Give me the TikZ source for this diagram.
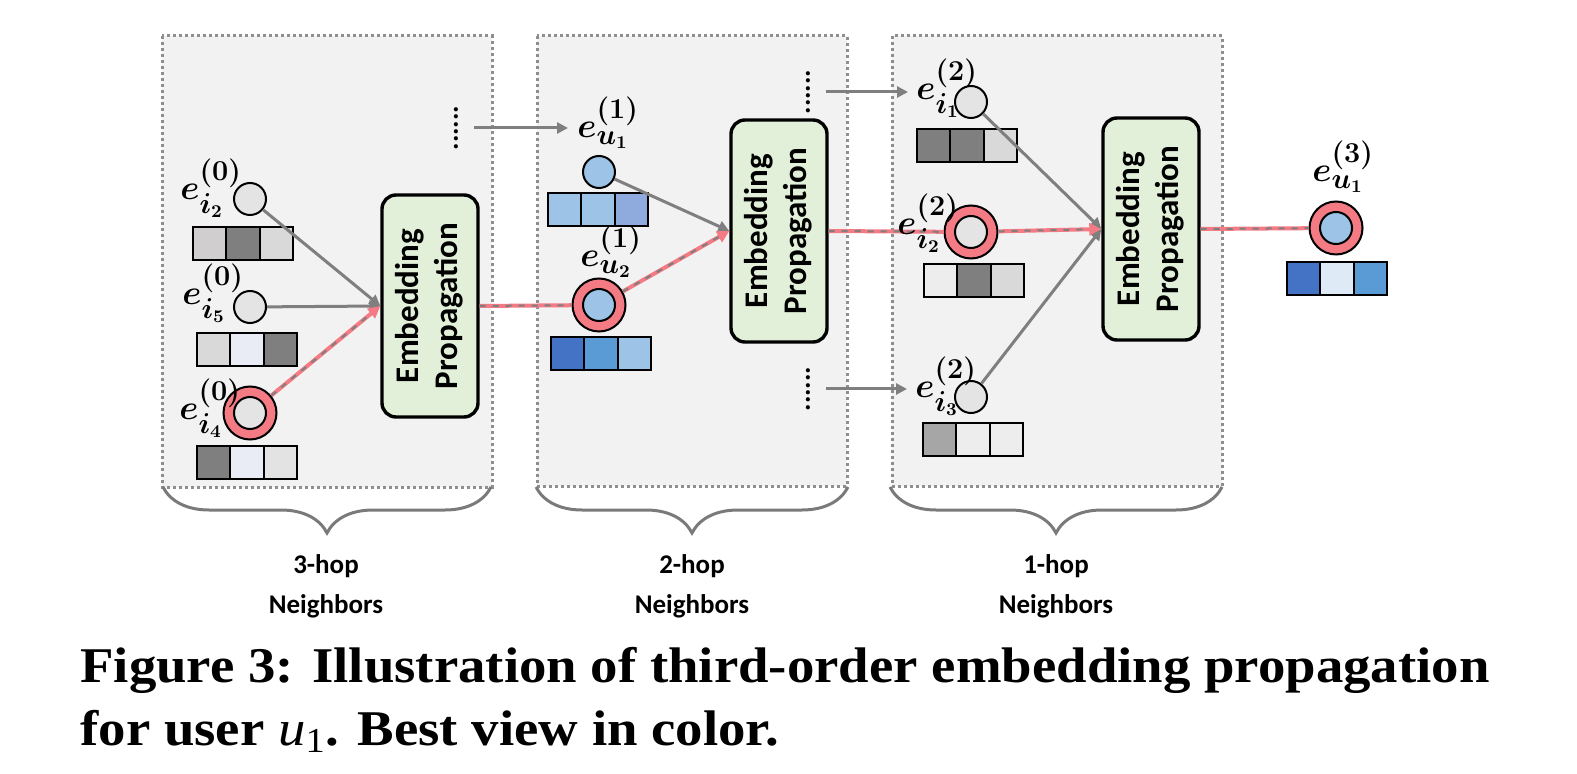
\documentclass[tikz,border=0pt]{standalone}
\usepackage{amsmath,bm}
\usepackage{fontspec}
\newfontfamily\calibri{Carlito}
\newfontfamily\capfont[FakeStretch=1.096]{Liberation Serif}
\usetikzlibrary{calc, arrows.meta, positioning, decorations.pathreplacing}

\definecolor{panelfill}{HTML}{F2F2F2}
\definecolor{dotgray}{HTML}{8E8E8E}
\definecolor{arrowgray}{HTML}{7F7F7F}
\definecolor{bracegray}{HTML}{7A7A7A}
\definecolor{propgreen}{HTML}{E2F0D9}
\definecolor{pinkc}{HTML}{F47A84}
\definecolor{itemgray}{HTML}{E4E4E4}
\definecolor{userblue}{HTML}{9DC3E6}
% cell colours
\definecolor{gdark}{HTML}{7F7F7F}
\definecolor{gmid}{HTML}{A6A6A6}
\definecolor{glight}{HTML}{D9D9D9}
\definecolor{gwarm}{HTML}{D0CECE}
\definecolor{gpale}{HTML}{E3E3E3}
\definecolor{gwhite}{HTML}{EDEDED}
\definecolor{bpale}{HTML}{E9EBF5}
\definecolor{bdeep}{HTML}{4472C4}
\definecolor{bmid}{HTML}{5B9BD5}
\definecolor{blight}{HTML}{9DC3E6}
\definecolor{bslate}{HTML}{8FAADC}
\definecolor{bwhite}{HTML}{DEEBF7}

\tikzset{
  panel/.style={draw=dotgray, fill=panelfill, line width=1.5pt, dash pattern=on 1.5pt off 1.5pt},
  prop/.style={draw, fill=propgreen, line width=1.7pt, rounded corners=7pt,
    minimum width=48pt, minimum height=111pt, inner sep=0pt,
    font=\calibri\bfseries\fontsize{16.5}{19.5}\selectfont},
  item/.style={circle, draw, line width=1pt, minimum size=16pt, inner sep=0pt},
  ring/.style={circle, draw, fill=pinkc, line width=1pt, minimum size=26.5pt, inner sep=0pt},
  cell/.style={draw, line width=1pt},
  lbl/.style={anchor=base west, inner sep=0pt, font=\fontsize{19}{22}\selectfont},
  flow/.style={draw=arrowgray, line width=1.5pt, -{Triangle[length=5.5pt,width=5.5pt]}},
  hldash/.style={draw=arrowgray, line width=1pt, dash pattern=on 3pt off 3.5pt, -},
  hl/.style={draw=pinkc, line width=2pt, postaction={hldash}},
  hlarrow/.style={draw=pinkc, line width=2pt, -{Triangle[length=6pt,width=6pt]},
    postaction={hldash, shorten >=6pt}},
  vdots/.style={inner sep=0pt, font=\calibri\bfseries\fontsize{14}{14}\selectfont},
  hopbrace/.style={draw=bracegray, line width=1.5pt, decorate,
    decoration={brace, mirror, amplitude=23pt}},
  hop/.style={align=center, font=\calibri\bfseries\fontsize{13.5}{20}\selectfont},
  captext/.style={anchor=base west, inner sep=0pt, font=\capfont\bfseries\fontsize{25}{30}\selectfont},
}

% embedding vector: left, top, three cell colours
\newcommand{\embvec}[5]{%
  \foreach \c [count=\k from 0] in {#3,#4,#5}
    \draw[cell, fill=\c] ({#1+\k*33.4},#2) rectangle ++(33.4,33);
}

\begin{document}
\begin{tikzpicture}[x=0.5pt, y=-0.5pt]
  \useasboundingbox (0,0) rectangle (1577,774);

  % panels and braces
  \draw[panel] (162,36) rectangle (492,487);
  \draw[panel] (537,36) rectangle (847,486);
  \draw[panel] (892,36) rectangle (1222,486);
  \draw[hopbrace] (163,487) -- (491,487);
  \draw[hopbrace] (536,487) -- (848,487);
  \draw[hopbrace] (890,487) -- (1222,487);
  \node[hop] (hop3) at (326,586) {3-hop\\Neighbors};
  \node[hop] (hop2) at (692,586) {2-hop\\Neighbors};
  \node[hop] (hop1) at (1056,586) {1-hop\\Neighbors};

  % propagation blocks
  \node[prop] (ep1) at (430,306) {\rotatebox{90}{\begin{tabular}{@{}c@{}}Embedding\\Propagation\end{tabular}}};
  \node[prop] (ep2) at (779,231) {\rotatebox{90}{\begin{tabular}{@{}c@{}}Embedding\\Propagation\end{tabular}}};
  \node[prop] (ep3) at (1151,229) {\rotatebox{90}{\begin{tabular}{@{}c@{}}Embedding\\Propagation\end{tabular}}};

  % 3-hop neighbors
  \node[item, fill=itemgray] (i2) at (250,199) {};
  \node[item, fill=itemgray] (i5) at (250,307) {};
  \node[ring] (i4r) at (250,413) {};
  \node[item, fill=itemgray] (i4) at (i4r) {};
  \embvec{193}{227}{gwarm}{gdark}{glight}
  \embvec{197}{333}{glight}{bpale}{gdark}
  \embvec{197}{446}{gdark}{bpale}{gpale}
  \node[vdots] (dots1) at (456,128) {\rotatebox{90}{......}};

  % 2-hop neighbors
  \node[item, fill=userblue] (u1) at (599,172) {};
  \node[ring] (u2r) at (599,305) {};
  \node[item, fill=userblue] (u2) at (u2r) {};
  \embvec{548}{193}{blight}{blight}{bslate}
  \embvec{551}{337}{bdeep}{bmid}{blight}
  \node[vdots] (dots2) at (808,92) {\rotatebox{90}{......}};
  \node[vdots] (dots3) at (808,389) {\rotatebox{90}{......}};

  % 1-hop neighbors
  \node[item, fill=itemgray] (i1) at (971,102) {};
  \node[ring] (i2r) at (971,232) {};
  \node[item, fill=itemgray] (i2b) at (i2r) {};
  \node[item, fill=itemgray] (i3) at (971,397) {};
  \embvec{917}{129}{gdark}{gdark}{glight}
  \embvec{924}{264}{gwhite}{gdark}{glight}
  \embvec{923}{423}{gmid}{gwhite}{gwhite}

  % target user
  \node[ring] (u1r) at (1336,228) {};
  \node[item, fill=userblue] (u1f) at (u1r) {};
  \embvec{1287}{262}{bdeep}{bwhite}{bmid}

  % connectors
  \draw[flow] (i2) -- (ep1.west);
  \draw[flow] (i5) -- (ep1.west);
  \draw[hlarrow] (i4r) -- (ep1.west);
  \draw[hl] (ep1.east) -- (u2r);
  \draw[flow] (u1) -- (ep2.west);
  \draw[hlarrow] (u2r) -- (ep2.west);
  \draw[hl] (ep2.east) -- (i2r);
  \draw[flow] (i1) -- (ep3.west);
  \draw[flow] (i3) -- (ep3.west);
  \draw[hlarrow] (i2r) -- (ep3.west);
  \draw[hl] (ep3.east) -- (u1r);

  % labels
  \node[lbl] (li2) at (180,200) {$\bm{e_{i_2}^{(0)}}$};
  \node[lbl] (li5) at (182,305) {$\bm{e_{i_5}^{(0)}}$};
  \node[lbl] (li4) at (179,420) {$\bm{e_{i_4}^{(0)}}$};
  \node[lbl] (lu1) at (577,138) {$\bm{e_{u_1}^{(1)}}$};
  \node[lbl] (lu2) at (580,267) {$\bm{e_{u_2}^{(1)}}$};
  \node[lbl] (lj1) at (916,100) {$\bm{e_{i_1}^{(2)}}$};
  \node[lbl] (lj2) at (897,235) {$\bm{e_{i_2}^{(2)}}$};
  \node[lbl] (lj3) at (915,398) {$\bm{e_{i_3}^{(2)}}$};
  \node[lbl] (lu1f) at (1312,182) {$\bm{e_{u_1}^{(3)}}$};

  \draw[flow] ([xshift=8pt]dots1.east) -- ($(dots1.east -| lu1.west)+(-9,0)$);
  \draw[flow] ([xshift=8pt]dots2.east) -- ($(dots2.east -| lj1.west)+(-8,0)$);
  \draw[flow] ([xshift=8pt]dots3.east) -- ($(dots3.east -| lj3.west)+(-8,0)$);

  % caption
  \node[captext] (cap1) at (80,682)
    {Figure 3: Illustration of third-order embedding propagation};
  \node[captext] (cap2) at (80,745)
    {for user {\mdseries\itshape u}{\mdseries\textsubscript{1}}. Best view in color.};
\end{tikzpicture}
\end{document}
